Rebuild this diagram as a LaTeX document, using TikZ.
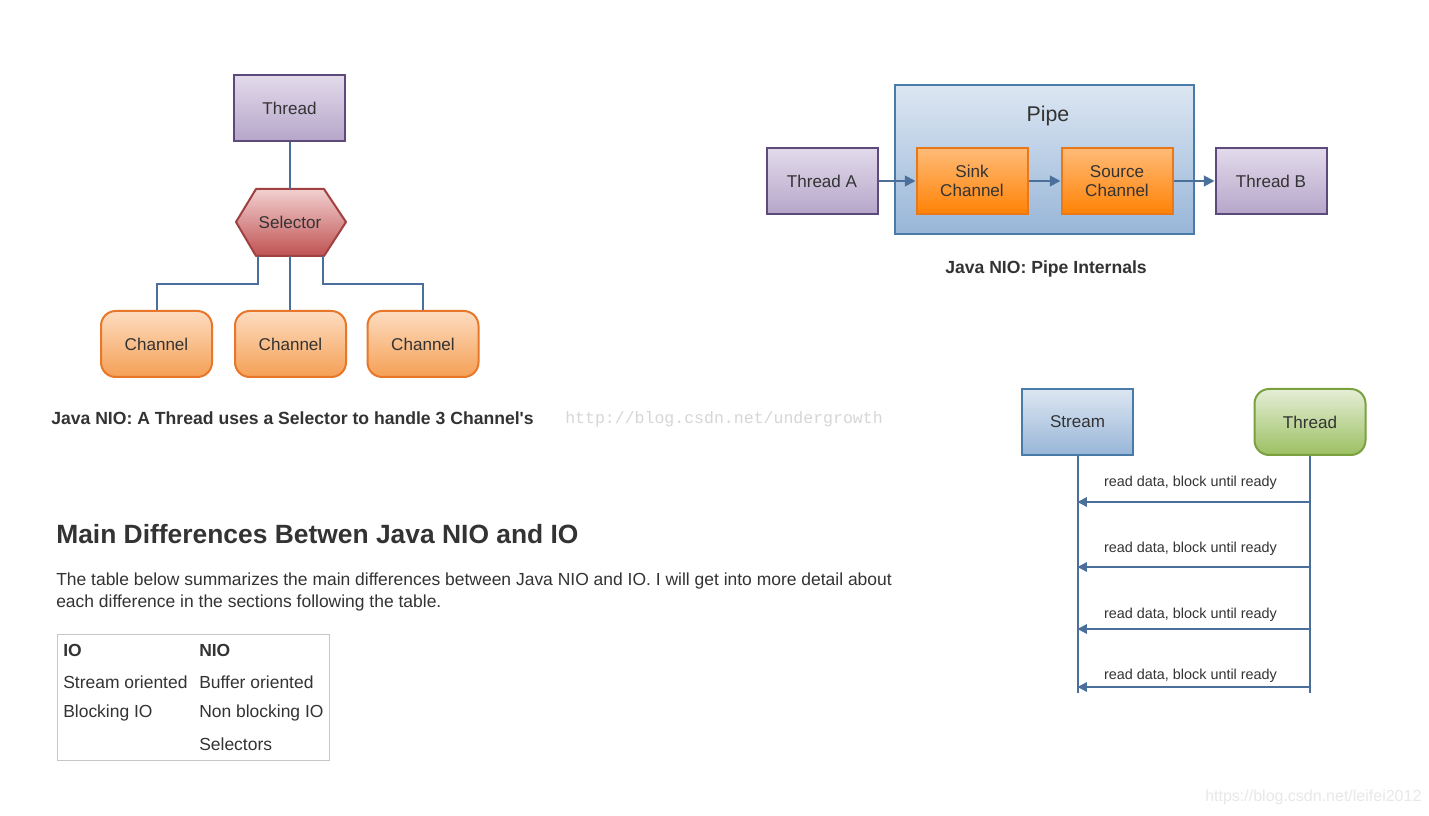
\documentclass[tikz,border=0pt]{standalone}
\usepackage{fontspec}
\setmainfont{Liberation Sans}
\newfontfamily\wmfont{Liberation Mono}
\usetikzlibrary{arrows.meta}
\definecolor{txt}{HTML}{333333}
\definecolor{conn}{HTML}{4A6F9A}
\definecolor{purpT}{HTML}{E2DAEA}
\definecolor{purpB}{HTML}{B6A6CA}
\definecolor{purpD}{HTML}{5E4A7A}
\definecolor{redT}{HTML}{F2D0D0}
\definecolor{redB}{HTML}{C05252}
\definecolor{redD}{HTML}{A04040}
\definecolor{orT}{HTML}{FDDCC0}
\definecolor{orB}{HTML}{F5A055}
\definecolor{orD}{HTML}{E8772A}
\definecolor{or2T}{HTML}{FFBB78}
\definecolor{or2B}{HTML}{FF8205}
\definecolor{or2D}{HTML}{E87818}
\definecolor{bluT}{HTML}{DCE6F2}
\definecolor{bluB}{HTML}{98B6D8}
\definecolor{bluD}{HTML}{4A7AA8}
\definecolor{grnT}{HTML}{E4EED6}
\definecolor{grnB}{HTML}{9CC062}
\definecolor{grnD}{HTML}{7AA040}
\begin{document}
\begin{tikzpicture}[x=0.75pt,y=-0.75pt,
  every node/.style={text=txt, font=\fontsize{12.8}{15}\selectfont},
  box/.style={draw, line width=1.5pt, minimum width=111*0.75pt, minimum height=66*0.75pt, inner sep=0pt, align=center},
  purplebox/.style={box, draw=purpD, top color=purpT, bottom color=purpB},
  chanbox/.style={box, draw=orD, top color=orT, bottom color=orB, rounded corners=11pt},
  pipechan/.style={box, draw=or2D, top color=or2T, bottom color=or2B, font=\fontsize{12.8}{14.5}\selectfont},
  bluebox/.style={box, draw=bluD, top color=bluT, bottom color=bluB},
  greenbox/.style={box, draw=grnD, top color=grnT, bottom color=grnB, rounded corners=11pt},
  conline/.style={draw=conn, line width=1.5pt},
  conarrow/.style={conline, -{Triangle[length=8pt,width=8pt]}},
  seqarrow/.style={draw=conn, line width=1.5pt, -{Triangle[length=7pt,width=7pt]}},
  caption/.style={font=\bfseries\fontsize{13.2}{15}\selectfont},
  para/.style={anchor=west, inner sep=0pt, font=\fontsize{13.1}{15}\selectfont},
  msg/.style={font=\fontsize{10.8}{12}\selectfont, inner sep=0pt}
]
\useasboundingbox[fill=white] (0,0) rectangle (1429,816);

% ---------- Selector diagram ----------
\node[purplebox] (thr) at (289.5,108) {Thread};
\fill[top color=redT, bottom color=redB] (236,222) -- (256,189) -- (324,189) -- (346,222) -- (324,256) -- (256,256) -- cycle;
\draw[redD, line width=1.5pt, line join=round] (236,222) -- (256,189) -- (324,189) -- (346,222) -- (324,256) -- (256,256) -- cycle;
\node (sel) at (290,222) {Selector};
\coordinate (selN) at (290,189);
\coordinate (selSW) at (258,256);
\coordinate (selS) at (290,256);
\coordinate (selSE) at (323,256);
\node[chanbox] (ch1) at (156.5,344) {Channel};
\node[chanbox] (ch2) at (290.5,344) {Channel};
\node[chanbox] (ch3) at (423,344) {Channel};
\draw[conline] (thr.south) -- (thr.south |- selN);
\draw[conline] (selSW) -- ++(0,28) -| (ch1.north);
\draw[conline] (selS) -- (selS |- ch2.north);
\draw[conline] (selSE) -- ++(0,28) -| (ch3.north);
\node[caption, anchor=west, inner sep=0pt] (cap1) at (51,418) {Java NIO: A Thread uses a Selector to handle 3 Channel\textquotesingle s};
\node[anchor=west, inner sep=0pt, text=black!16, font=\wmfont\fontsize{12.4}{14}\selectfont] (wm1) at (565,419) {http://blog.csdn.net/undergrowth};

% ---------- Pipe diagram ----------
\node[bluebox, minimum width=299*0.75pt, minimum height=149*0.75pt] (pipe) at (1044.5,159.5) {};
\node[font=\fontsize{16}{18}\selectfont] (pipelbl) at (1048,116) {Pipe};
\node[purplebox] (ta) at (822,181) {Thread A};
\node[pipechan] (sink) at (972,181) {Sink\\Channel};
\node[pipechan] (src) at (1117,181) {Source\\Channel};
\node[purplebox] (tb) at (1271,181) {Thread B};
\draw[conarrow] (ta.east) -- (sink.west);
\draw[conarrow] (sink.east) -- (src.west);
\draw[conarrow] (src.east) -- (tb.west);
\node[caption] (cap2) at (1046,269) {Java NIO: Pipe Internals};

% ---------- Sequence diagram ----------
\node[bluebox] (stream) at (1077.5,422) {Stream};
\node[greenbox] (thr2) at (1310,422) {Thread};
\coordinate (sEnd) at (1078,693);
\coordinate (tEnd) at (1310,693);
\draw[conline] (stream.south) -- (stream.south |- sEnd);
\draw[conline] (thr2.south) -- (thr2.south |- tEnd);
\foreach \i/\ya/\yl in {1/502/483, 2/567/549, 3/629/615, 4/687/676}{
  \coordinate (t\i) at (1310,\ya);
  \coordinate (s\i) at (1077.5,\ya);
  \draw[seqarrow] (t\i) -- (s\i);
  \node[msg] (m\i) at (1190.5,\yl) {read data, block until ready};
}

% ---------- Text section ----------
\node[anchor=west, inner sep=0pt, font=\bfseries\fontsize{19.8}{23}\selectfont] (head) at (56,534) {Main Differences Betwen Java NIO and IO};
\node[para] (p1) at (56,581) {The table below summarizes the main differences between Java NIO and IO. I will get into more detail about};
\node[para] (p2) at (56,603) {each difference in the sections following the table.};
\draw[black!22, line width=0.75pt] (57,634) rectangle (329,760);
\node[para, font=\bfseries\fontsize{13.1}{15}\selectfont] (c11) at (63,650) {IO};
\node[para, font=\bfseries\fontsize{13.1}{15}\selectfont] (c12) at (199,650) {NIO};
\node[para] (c21) at (63,682) {Stream oriented};
\node[para] (c22) at (199,682) {Buffer oriented};
\node[para] (c31) at (63,713) {Blocking IO};
\node[para] (c32) at (199,713) {Non blocking IO};
\node[para] (c42) at (199,744) {Selectors};

\node[anchor=west, inner sep=0pt, text=black!9, font=\fontsize{12}{14}\selectfont] (wm2) at (1205,797) {https://blog.csdn.net/leifei2012};
\end{tikzpicture}
\end{document}
